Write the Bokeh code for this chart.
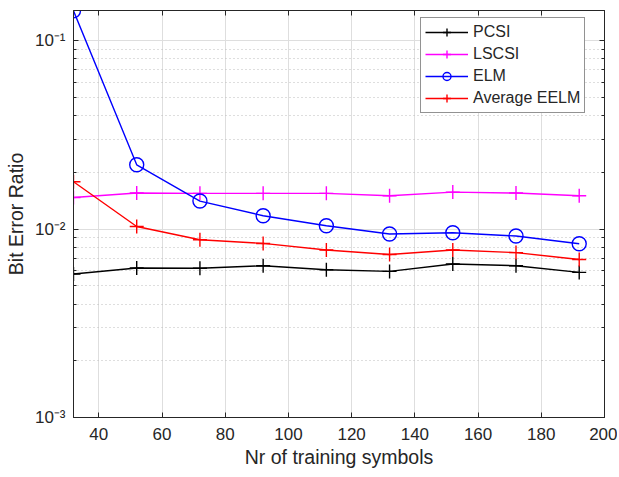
from bokeh.plotting import figure
from bokeh.models import (Range1d, FixedTicker, LinearAxis, LogAxis, Legend, LegendItem)
from bokeh.embed import file_html
from bokeh.resources import INLINE

# ---- data ----
x_symbols = [32, 52, 72, 92, 112, 132, 152, 172, 192]
pcsi = [0.00577, 0.00621, 0.00619, 0.00639, 0.00608, 0.00596, 0.00652, 0.00639, 0.00589]
lscsi = [0.01471, 0.01553, 0.01547, 0.01547, 0.01547, 0.01502, 0.01571, 0.01553, 0.01502]
elm = [0.1440, 0.02193, 0.01408, 0.01177, 0.01041, 0.00941, 0.00956, 0.00918, 0.00836]
avg_eelm = [0.01782, 0.01032, 0.00878, 0.00839, 0.00774, 0.00733, 0.00774, 0.00750, 0.00690]

x_ticks = [40, 60, 80, 100, 120, 140, 160, 180, 200]
y_ticks = [1e-3, 1e-2, 1e-1]
y_tick_labels = ["10\u207b\u00b3", "10\u207b\u00b2", "10\u207b\u00b9"]

series_names = ["PCSI", "LSCSI", "ELM", "Average EELM"]
series_colors = ["#000000", "#ff00ff", "#0000ff", "#ff0000"]
series_markers = ["cross", "cross", "circle", "cross"]

FONT = "Liberation Sans"
TXT = "#262626"

p = figure(width=617, height=475, y_axis_type="log",
           x_range=Range1d(32, 200), y_range=Range1d(1e-3, 0.1445),
           output_backend="svg", toolbar_location=None,
           min_border_left=73, min_border_right=13, min_border_top=10, min_border_bottom=58)

minor = [m * d for d in (1e-3, 1e-2, 1e-1) for m in range(2, 10)]
yt = FixedTicker(ticks=y_ticks, minor_ticks=minor)
xt = FixedTicker(ticks=x_ticks)

p.outline_line_color = TXT
p.outline_line_width = 1
p.background_fill_color = "white"
p.border_fill_color = "white"

# grids
p.xgrid.ticker = xt
p.xgrid.grid_line_color = "#dedede"
p.ygrid.ticker = yt
p.ygrid.grid_line_color = "#dedede"
p.ygrid.minor_grid_line_color = "#bdbdbd"
p.ygrid.minor_grid_line_dash = "1 3"

# axes
xa = p.xaxis[0]
xa.ticker = xt
xa.axis_label = "Nr of training symbols"
ya = p.yaxis[0]
ya.ticker = yt
ya.axis_label = "Bit Error Ratio"
ya.major_label_overrides = {v: s for v, s in zip(y_ticks, y_tick_labels)}

for ax in (xa, ya):
    ax.axis_line_color = TXT
    ax.major_tick_in = 5
    ax.major_tick_out = 0
    ax.minor_tick_in = 3
    ax.minor_tick_out = 0
    ax.major_tick_line_color = TXT
    ax.minor_tick_line_color = TXT
    ax.major_label_text_font = FONT
    ax.major_label_text_font_size = "17px"
    ax.major_label_text_color = TXT
    ax.axis_label_text_font = FONT
    ax.axis_label_text_font_size = "19.5px"
    ax.axis_label_text_font_style = "normal"
    ax.axis_label_text_color = TXT
xa.major_label_standoff = 10
xa.axis_label_standoff = 3
ya.major_label_standoff = 8
ya.axis_label_standoff = 5

# top and right ticks (no labels)
top = LinearAxis(ticker=xt, major_tick_in=5, major_tick_out=0, minor_tick_in=0, minor_tick_out=0,
                 major_label_overrides={t: "" for t in x_ticks}, major_label_standoff=0,
                 axis_line_color=TXT, major_tick_line_color=TXT)
right = LogAxis(ticker=yt, major_tick_in=5, major_tick_out=0, minor_tick_in=3, minor_tick_out=0,
                major_label_overrides={t: "" for t in y_ticks}, major_label_standoff=0,
                axis_line_color=TXT, major_tick_line_color=TXT, minor_tick_line_color=TXT)
p.add_layout(top, "above")
p.add_layout(right, "right")

items = []
all_series = [pcsi, lscsi, elm, avg_eelm]
for name, col, mk, ys in zip(series_names, series_colors, series_markers, all_series):
    r1 = p.line(x_symbols, ys, line_color=col, line_width=1.4)
    r2 = p.scatter(x_symbols, ys, marker=mk, size=14, line_color=col,
                   fill_color=None, line_width=1.4)
    items.append(LegendItem(label=name, renderers=[r1, r2]))

legend = Legend(items=items, location=(347, 304),
                label_text_font=FONT, label_text_font_size="16px", label_text_color=TXT,
                glyph_width=43, glyph_height=20, label_height=20, spacing=2,
                padding=4, margin=0, label_standoff=5,
                border_line_color=TXT, border_line_width=1,
                background_fill_color="white", background_fill_alpha=1)
p.add_layout(legend)

open("out.html", "w").write(file_html(p, INLINE))
